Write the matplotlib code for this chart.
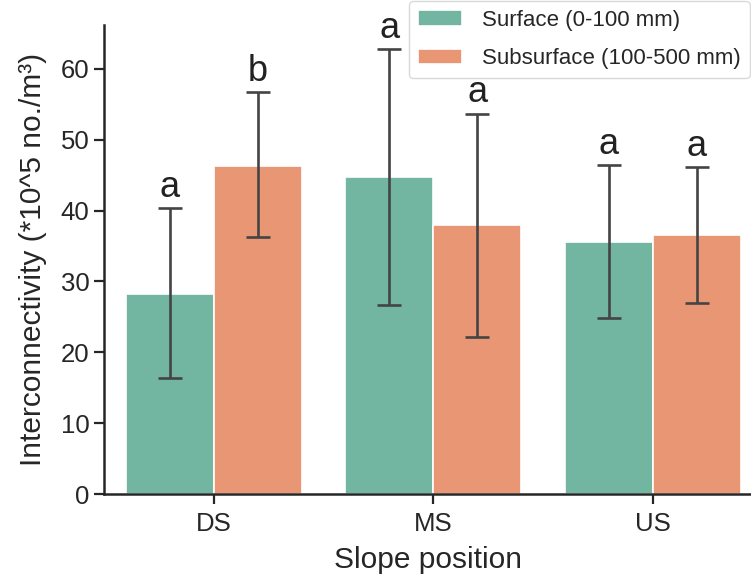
import numpy as np
import matplotlib
matplotlib.use("Agg")
import matplotlib.pyplot as plt
import seaborn as sns

# mean interconnectivity and error-bar limits per slope position
positions = ["DS", "MS", "US"]
layers = ["Surface (0-100 mm)", "Subsurface (100-500 mm)"]
surface_mean = [28.3, 44.8, 35.5]
surface_low = [16.4, 26.7, 24.8]
surface_high = [40.4, 62.8, 46.4]
subsurface_mean = [46.3, 37.9, 36.5]
subsurface_low = [36.3, 22.1, 27.0]
subsurface_high = [56.7, 53.7, 46.1]
surface_letters = ["a", "a", "a"]
subsurface_letters = ["b", "a", "a"]

sns.set_theme(style="ticks")
plt.rcParams["font.family"] = ["Liberation Sans", "DejaVu Sans"]

pal = sns.color_palette("Set2", 2)
colors = [sns.desaturate(c, 0.75) for c in pal]

fig = plt.figure(figsize=(7.51, 5.79), dpi=100)
ax = fig.add_axes([104 / 751, 85 / 579, 647 / 751, 469 / 579])

x = np.arange(len(positions))
w = 0.4
series = [
    (surface_mean, surface_low, surface_high, surface_letters, -w / 2),
    (subsurface_mean, subsurface_low, subsurface_high, subsurface_letters, w / 2),
]
for i, (mean, low, high, letters, off) in enumerate(series):
    mean = np.array(mean)
    yerr = [mean - np.array(low), np.array(high) - mean]
    ax.bar(x + off, mean, w, color=colors[i], edgecolor="white", linewidth=1.2,
           label=layers[i], zorder=2)
    ax.errorbar(x + off, mean, yerr=yerr, fmt="none", ecolor="#444444",
                elinewidth=1.9, capsize=8.6, capthick=1.9, zorder=3)
    for xi, top, let in zip(x + off, high, letters):
        ax.annotate(let, (xi, top), xytext=(0, 8), textcoords="offset points",
                    ha="center", va="baseline", fontsize=26, color="#222222")

ax.set_xlim(-0.5, -0.5 + 647 / 219.5)
ax.set_ylim(0, 66.2)
ax.set_xticks(x)
ax.set_xticklabels(positions)
ax.set_yticks(range(0, 61, 10))
ax.tick_params(labelsize=18.5, length=7, width=1.6, colors="#262626")
ax.tick_params(axis="x", pad=6)
for s in ["left", "bottom"]:
    ax.spines[s].set_linewidth(1.8)
    ax.spines[s].set_color("#262626")
sns.despine(ax=ax)

ax.set_xlabel("Slope position", fontsize=21.5, color="#262626", labelpad=7)
ax.set_ylabel("Interconnectivity (*10^5 no./m³)", fontsize=21.5,
              color="#262626", labelpad=10)

leg = ax.legend(loc="upper right", bbox_to_anchor=(1.0, 1.0),
                bbox_transform=fig.transFigure, fontsize=16.0, frameon=True,
                borderaxespad=0.05, handletextpad=0.9, labelspacing=0.77)
leg.get_frame().set_edgecolor("#d0d0d0")
leg.set_zorder(5)
for t in leg.get_texts():
    t.set_color("#262626")

fig.savefig("out.png", dpi=100)
